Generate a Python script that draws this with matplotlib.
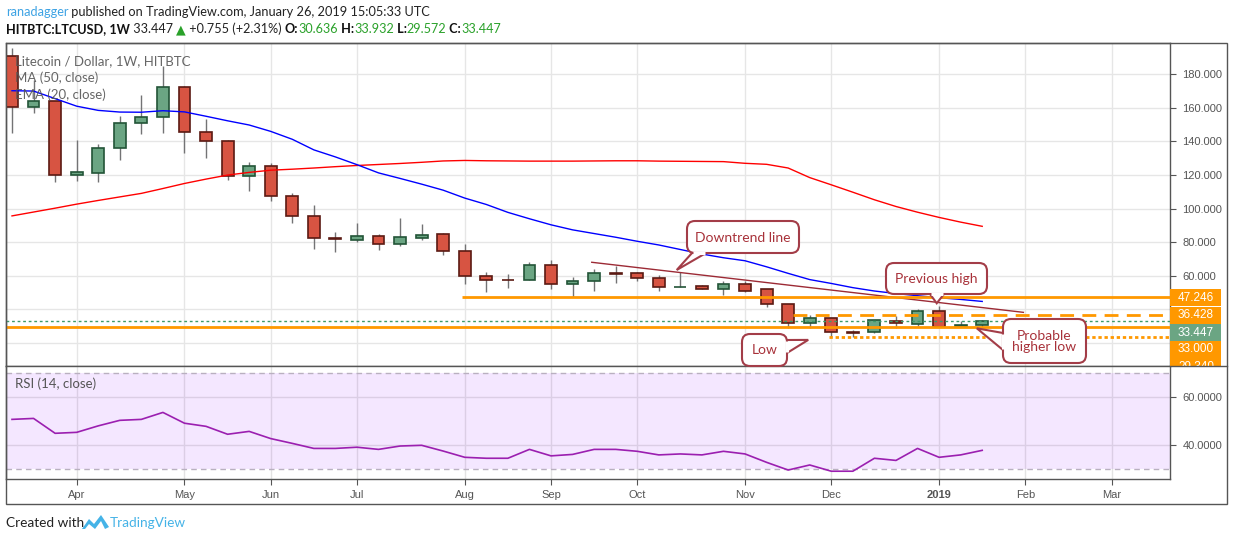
import numpy as np
import matplotlib

matplotlib.use("Agg")
import matplotlib.pyplot as plt
from matplotlib.patches import Rectangle, Polygon, FancyBboxPatch
from matplotlib.lines import Line2D
from matplotlib.transforms import IdentityTransform

W, H = 1234, 541

# weekly candles HITBTC:LTCUSD, 12 Mar 2018 .. 21 Jan 2019
opens = [190.9, 160.4, 164.1, 119.9, 121.4, 136.0, 150.8, 154.4, 172.3, 145.5,
         140.3, 119.3, 125.2, 107.4, 95.5, 82.4, 81.2, 83.6, 78.8, 82.4,
         84.8, 74.6, 59.8, 57.7, 57.5, 66.5, 55.2, 56.8, 61.6, 61.5,
         58.6, 53.3, 53.9, 52.0, 55.0, 52.0, 43.1, 31.8, 34.8, 26.5,
         26.4, 33.3, 31.2, 39.1, 30.2, 30.636]
highs = [195.5, 176.6, 164.3, 140.9, 138.5, 155.4, 167.7, 184.9, 173.2, 153.4,
         140.6, 127.8, 127.2, 109.3, 102.0, 86.1, 91.5, 84.9, 94.5, 90.7,
         85.5, 79.0, 62.1, 61.1, 68.3, 69.5, 59.2, 64.1, 66.1, 62.5,
         60.5, 62.5, 54.4, 57.0, 57.1, 52.2, 43.3, 36.7, 35.1, 28.0,
         34.0, 36.3, 40.3, 42.3, 33.3, 33.932]
lows = [145.2, 156.7, 115.7, 116.7, 116.1, 129.0, 144.3, 144.9, 133.0, 130.0,
        117.1, 110.7, 104.8, 91.7, 76.2, 74.4, 80.4, 75.6, 78.0, 81.5,
        72.4, 55.2, 50.2, 53.0, 57.3, 52.4, 47.6, 51.2, 55.6, 57.1,
        51.2, 53.2, 52.0, 48.8, 50.6, 41.7, 29.2, 29.2, 23.5, 23.8,
        26.3, 29.2, 30.3, 29.6, 29.9, 29.572]
closes = [160.4, 163.9, 119.9, 121.7, 136.0, 150.8, 154.4, 172.3, 145.5, 140.3,
          119.3, 125.2, 107.4, 95.5, 82.4, 82.1, 83.6, 78.8, 83.0, 84.2,
          74.6, 59.8, 57.7, 57.5, 66.3, 55.2, 56.8, 61.5, 61.4, 58.6,
          53.2, 53.6, 52.0, 55.0, 51.2, 43.1, 31.8, 34.8, 26.4, 26.3,
          33.6, 31.8, 39.1, 29.8, 30.636, 33.447]

ema20 = [170.2, 170.0, 165.5, 161.0, 158.5, 157.5, 157.4, 158.3, 157.6, 155.0,
         152.3, 149.8, 146.0, 141.3, 135.0, 130.8, 126.2, 121.3, 118.0, 114.6,
         111.0, 106.3, 102.5, 97.8, 94.0, 90.4, 87.4, 85.2, 83.0, 80.6,
         78.4, 75.7, 73.0, 70.8, 69.0, 65.4, 61.5, 57.8, 55.5, 53.0,
         51.0, 49.5, 48.2, 47.0, 46.0, 44.8]
ma50 = [95.7, 98.0, 100.3, 102.7, 104.9, 107.0, 109.1, 112.0, 115.0, 117.6,
        120.0, 121.6, 122.9, 123.5, 124.2, 125.0, 125.7, 126.3, 126.9, 127.6,
        128.4, 128.7, 128.5, 128.4, 128.3, 128.3, 128.3, 128.4, 128.5, 128.5,
        128.3, 128.2, 128.1, 128.0, 127.0, 126.4, 124.2, 118.5, 114.2, 109.8,
        105.3, 101.3, 97.9, 94.8, 92.0, 89.5]
rsi14 = [50.8, 51.2, 45.0, 45.4, 48.1, 50.4, 50.8, 53.7, 49.2, 47.9,
         44.6, 45.8, 42.8, 40.8, 38.7, 38.7, 39.2, 38.3, 39.7, 40.0,
         37.6, 35.0, 34.6, 34.6, 38.3, 35.6, 36.2, 38.3, 38.3, 37.5,
         36.0, 36.4, 36.0, 37.5, 36.4, 32.9, 29.7, 31.8, 29.2, 29.2,
         34.6, 33.7, 38.7, 35.0, 36.0, 37.9]

month_pos = [3, 8, 12, 16, 21, 25, 29, 34, 38, 43, 47, 51]
month_labels = ["Apr", "May", "Jun", "Jul", "Aug", "Sep", "Oct", "Nov", "Dec", "2019", "Feb", "Mar"]
price_ticks = [20, 40, 60, 80, 100, 120, 140, 160, 180]
rsi_ticks = [40, 60]

# drawn levels
resistance, resistance_from = 47.246, 20.85
prev_high, prev_high_from = 36.428, 36.24
support = 29.34
dec_low, dec_low_from = 23.6, 37.9
last_close = 33.447
trend_x = [26.89, 46.91]
trend_y = [68.1, 38.3]

tag_texts = ["47.246", "36.428", "33.447", "33.000", "29.340"]

# callouts: text, tip (bar index, price), box (left, top, right, bottom px), pointer base px
callout_texts = ["Downtrend line", "Previous high", "Low", "Probable\nhigher low"]
callout_tips = [(30.83, 63.5), (42.89, 43.7), (36.93, 21.9), (44.75, 28.8)]
callout_boxes = [(687, 221, 799, 253), (886, 263, 987, 294), (742, 334, 787, 366),
                 (1003, 319, 1086, 363)]
callout_bases = [((692, 253), (706, 253)), ((930, 294), (944, 294)),
                 ((787, 340), (787, 353)), ((1003, 333), (1003, 350))]

ORANGE = "#ff9800"
UP, UP_EDGE = "#6ba583", "#225437"
DN, DN_EDGE = "#d75442", "#5b1a13"
WICK = "#737375"
GRID = "#e6e6e6"
FRAME = "#555555"
TXT = "#555555"
CALL_EC, CALL_TX = "#a33d48", "#a8323a"
FONT = ["Lato", "DejaVu Sans"]
AXFONT = ["Liberation Sans", "DejaVu Sans"]


def px(x, y):
    return x / W, 1 - y / H


fig = plt.figure(figsize=(W / 100, H / 100), dpi=100)
fig.patch.set_facecolor("white")

ax = fig.add_axes([6 / W, 1 - 366 / H, (1170 - 6) / W, (366 - 43) / H])
ax2 = fig.add_axes([6 / W, 1 - 479 / H, (1170 - 6) / W, (479 - 366) / H], sharex=ax)

n = len(closes)
x = np.arange(n)

# ---- price panel
for i in range(n):
    o, h, l, c = opens[i], highs[i], lows[i], closes[i]
    up = c >= o
    ax.vlines(i, l, h, color=WICK, lw=1, zorder=2)
    body = max(abs(c - o), 0.25)
    ax.bar(i, body, bottom=min(o, c), width=0.55,
           color=UP if up else DN, edgecolor=UP_EDGE if up else DN_EDGE,
           lw=1.2, zorder=3)

ax.plot(x, ma50, color="#ff0000", lw=1, zorder=4)
ax.plot(x, ema20, color="#0000ff", lw=1, zorder=4)

ax.plot(trend_x, trend_y, color="#9c2a35", lw=1, zorder=4)
ax.hlines(resistance, resistance_from, 60, color=ORANGE, lw=2, zorder=4)
ax.hlines(prev_high, prev_high_from, 60, color=ORANGE, lw=2, linestyles=(0, (5, 3)), zorder=4)
ax.axhline(support, color=ORANGE, lw=2, zorder=4)
ax.hlines(dec_low, dec_low_from, 60, color=ORANGE, lw=2, linestyles=(0, (1.2, 1)), zorder=4)
ax.axhline(last_close, color="#3d9a6a", lw=1, linestyle=(0, (2, 2)), zorder=4)

ax.set_xlim(-0.278, 53.71)
ax.set_ylim(6.37, 198.6)
ax.set_yticks(price_ticks)
# the 20 / 40 labels sit behind the price tags
ax.set_yticklabels(["" if v < 60 else f"{v:.3f}" for v in price_ticks])
ax.yaxis.tick_right()
ax.tick_params(axis="y", direction="out", length=4, color=FRAME, labelsize=8,
               labelcolor=TXT, pad=5)
ax.tick_params(axis="x", length=0, labelbottom=False)
ax.set_xticks(month_pos)
ax.grid(True, color=GRID, lw=1, zorder=0)
ax.set_axisbelow(True)
for s in ax.spines.values():
    s.set_color(FRAME)
    s.set_linewidth(1)

# ---- RSI panel
ax2.axhspan(30, 70, color=(153 / 255, 21 / 255, 1.0), alpha=0.1, lw=0, zorder=1)
for lvl in (30, 70):
    ax2.axhline(lvl, color="#b9b0c0", lw=1, linestyle=(0, (4, 3)), zorder=2)
ax2.plot(x, rsi14, color="#9b1fb0", lw=1.2, zorder=3)
ax2.set_ylim(25.96, 73.04)
ax2.set_yticks(rsi_ticks)
ax2.set_yticklabels([f"{v:.4f}" for v in rsi_ticks])
ax2.yaxis.tick_right()
ax2.set_xticks(month_pos)
ax2.set_xticklabels(month_labels)
ax2.tick_params(axis="y", direction="out", length=4, color=FRAME, labelsize=8,
                labelcolor=TXT, pad=5)
ax2.tick_params(axis="x", direction="out", length=4, color=FRAME, labelsize=8,
                labelcolor=TXT, pad=4)
ax2.get_xticklabels()[9].set_fontweight("bold")
ax2.grid(True, color="#e3e3e3", lw=1, zorder=0)
ax2.set_axisbelow(True)
for s in ax2.spines.values():
    s.set_color(FRAME)
    s.set_linewidth(1)
for t in ax.get_yticklabels() + ax2.get_yticklabels() + ax2.get_xticklabels():
    t.set_family(AXFONT)

# ---- callouts (speech bubbles), drawn in pixel space on top of the price panel
ident = IdentityTransform()


def dev(xp, yp):
    return xp, H - yp


for label, tip, box, base in zip(callout_texts, callout_tips, callout_boxes, callout_bases):
    l, t, r, b = box
    tx, ty = ax.transData.transform(tip)
    b1, b2 = dev(*base[0]), dev(*base[1])
    fig.add_artist(Polygon([b1, (tx, ty), b2], closed=True, transform=ident,
                           fc="white", ec=CALL_EC, lw=1.5, zorder=6))
    fig.add_artist(FancyBboxPatch(dev(l, b), r - l, b - t,
                                  boxstyle="round,pad=0,rounding_size=8", transform=ident,
                                  fc="white", ec=CALL_EC, lw=1.5, zorder=6.1))
    # open the bubble where the pointer joins it
    if base[0][1] == base[1][1]:
        seg = [(b1[0] + 1.2, b1[1]), (b2[0] - 1.2, b2[1])]
    else:
        seg = [(b1[0], b1[1] - 1.2), (b2[0], b2[1] + 1.2)]
    fig.add_artist(Line2D([seg[0][0], seg[1][0]], [seg[0][1], seg[1][1]], transform=ident,
                          color="white", lw=2.2, zorder=6.2, solid_capstyle="butt"))
    fig.text(*px((l + r) / 2, (t + b) / 2 + 0.5), label, ha="center", va="center",
             fontsize=10, color=CALL_TX, family=FONT, linespacing=0.95, zorder=6.3)

# ---- frame and price tags
fig.add_artist(Rectangle(px(6, 504), 1221 / W, 461 / H, transform=fig.transFigure,
                         fill=False, ec=FRAME, lw=1, zorder=5))
fig.add_artist(Line2D([1170 / W, 1227 / W], [1 - 366 / H] * 2, transform=fig.transFigure,
                      color=FRAME, lw=1, zorder=5))

tag_tops = [289.3, 306.7, 324.0, 341.0, 358.3]
tag_colors = [ORANGE, ORANGE, UP, ORANGE, ORANGE]
for txt, top, col in zip(tag_texts, tag_tops, tag_colors):
    h = 17.0
    bottom = min(top + h, 366)
    rect = Rectangle(px(1170, bottom), 51 / W, (bottom - top) / H,
                     transform=fig.transFigure, fc=col, ec="none", zorder=3)
    fig.add_artist(rect)
    t = fig.text(*px(1196, top + 8.5), txt, color="white", fontsize=8.5,
                 ha="center", va="center", family=AXFONT, zorder=4)
    t.set_clip_path(rect)

# ---- texts
for yy, s in [(61, "Litecoin / Dollar, 1W, HITBTC"), (78, "MA (50, close)"),
              (95, "EMA (20, close)")]:
    fig.text(*px(15, yy), s, fontsize=9.5, color=TXT, family=FONT, va="center",
             alpha=0.9, zorder=6)
fig.text(*px(15, 384), "RSI (14, close)", fontsize=9.5, color=TXT, family=FONT, va="center",
         zorder=6)

renderer = fig.canvas.get_renderer()


def put_seq(x0, y0, pieces, size):
    xx = x0
    for s, col, wt in pieces:
        t = fig.text(*px(xx, y0), s, color=col, fontsize=size, fontweight=wt,
                     ha="left", va="center", family=FONT)
        xx += t.get_window_extent(renderer).width


put_seq(6, 12, [("ranadagger", "#3ea3e4", "normal"),
                (" published on TradingView.com, January 26, 2019 15:05:33 UTC", "#222222", "normal")], 9.2)
G = "#2aa12a"
put_seq(6, 29, [("HITBTC:LTCUSD, 1W", "#111111", "bold"),
                (" 33.447 ", "#222222", "normal"),
                ("\u25b2", G, "normal"),
                (" +0.755 (+2.31%) ", "#222222", "normal"),
                ("O:", "#111111", "bold"), ("30.636", G, "normal"),
                (" H:", "#111111", "bold"), ("33.932", G, "normal"),
                (" L:", "#111111", "bold"), ("29.572", G, "normal"),
                (" C:", "#111111", "bold"), ("33.447", G, "normal")], 9.1)

fig.text(*px(6, 523), "Created with", fontsize=9.8, color="#222222", family=FONT, va="center")
logo = [(82, 529), (89, 519), (94, 524), (101, 515), (109, 527), (105, 529), (101, 521),
        (95, 529), (89, 524), (85, 529)]
fig.add_artist(Polygon([px(a, b) for a, b in logo], closed=True, transform=fig.transFigure,
                       fc="#45b3e7", ec="none"))
fig.text(*px(110, 523), "TradingView", fontsize=9.8, color="#45b3e7", family=FONT, va="center")

fig.savefig("out.png", dpi=100, facecolor="white")
